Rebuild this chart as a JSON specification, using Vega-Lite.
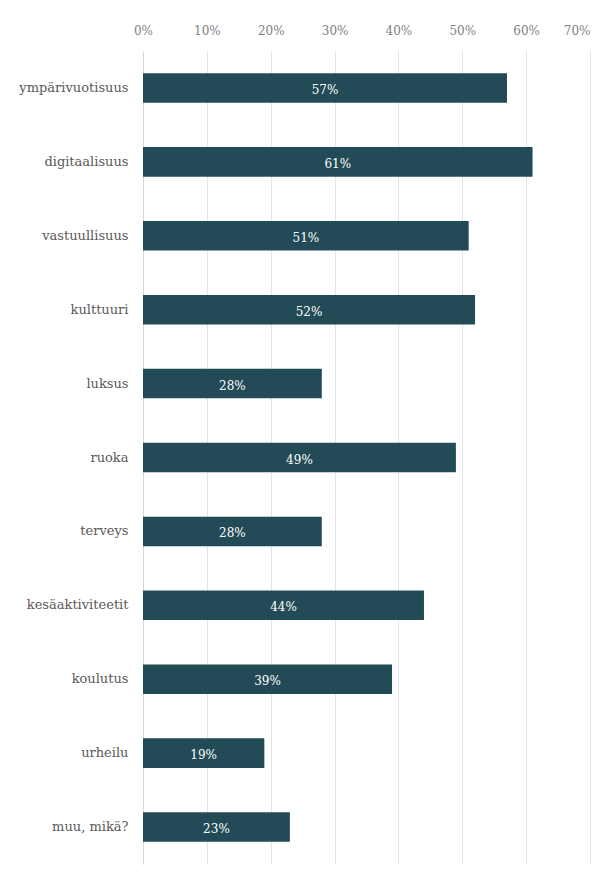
{
  "$schema": "https://vega.github.io/schema/vega-lite/v6.json",
  "autosize": {"type": "none"},
  "width": 447,
  "height": 813,
  "padding": {"left": 143, "top": 51, "right": 10, "bottom": 14},
  "background": "white",
  "config": {
    "font": "DejaVu Serif",
    "view": {"stroke": null}
  },
  "data": {
    "values": [
      {"cat": "ympärivuotisuus", "v": 0.57},
      {"cat": "digitaalisuus", "v": 0.61},
      {"cat": "vastuullisuus", "v": 0.51},
      {"cat": "kulttuuri", "v": 0.52},
      {"cat": "luksus", "v": 0.28},
      {"cat": "ruoka", "v": 0.49},
      {"cat": "terveys", "v": 0.28},
      {"cat": "kesäaktiviteetit", "v": 0.44},
      {"cat": "koulutus", "v": 0.39},
      {"cat": "urheilu", "v": 0.19},
      {"cat": "muu, mikä?", "v": 0.23}
    ]
  },
  "encoding": {
    "y": {
      "field": "cat",
      "type": "nominal",
      "sort": null,
      "scale": {"paddingInner": 0.6, "paddingOuter": 0.3},
      "axis": {
        "title": null,
        "ticks": false,
        "domain": true,
        "domainColor": "#d3d7e3",
        "labelFont": "DejaVu Serif",
        "labelFontSize": 13,
        "labelColor": "#595959",
        "labelPadding": 15
      }
    }
  },
  "layer": [
    {
      "mark": {"type": "bar", "color": "#234b57"},
      "encoding": {
        "x": {
          "field": "v",
          "type": "quantitative",
          "scale": {"domain": [0, 0.7], "nice": false},
          "axis": {
            "orient": "top",
            "title": null,
            "format": ".0%",
            "values": [0, 0.1, 0.2, 0.3, 0.4, 0.5, 0.6, 0.7],
            "labelOverlap": false,
            "labelFlush": false,
            "labelAlign": {"condition": {"test": "datum.value >= 0.69", "value": "right"}, "value": "center"},
            "ticks": false,
            "domain": false,
            "grid": true,
            "gridColor": "#e3e3e8",
            "labelFont": "DejaVu Serif",
            "labelFontSize": 12,
            "labelColor": "#7f7f7f",
            "labelPadding": 14
          }
        }
      }
    },
    {
      "mark": {"type": "text", "color": "white", "fontSize": 12, "font": "DejaVu Serif", "baseline": "middle", "dy": 2},
      "transform": [{"calculate": "datum.v / 2", "as": "mid"}],
      "encoding": {
        "x": {"field": "mid", "type": "quantitative"},
        "text": {"field": "v", "type": "quantitative", "format": ".0%"}
      }
    }
  ]
}
